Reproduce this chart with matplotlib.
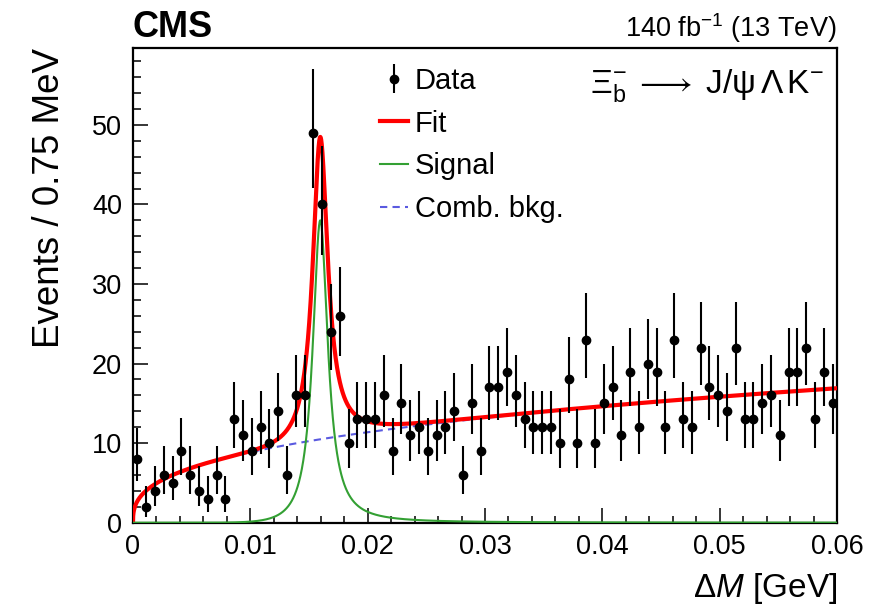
import math
import numpy as np
import matplotlib
matplotlib.use("Agg")
import matplotlib.pyplot as plt
from matplotlib.ticker import MultipleLocator

# ---------------- data ----------------
bin_width = 0.00075  # GeV
x_min, x_max = 0.0, 0.06
counts = [8, 2, 4, 6, 5, 9, 6, 4, 3, 6, 3, 13, 11, 9, 12, 10, 14, 6, 16, 16,
          49, 40, 24, 26, 10,
          13, 13, 13, 16, 9, 15, 11, 12, 9, 11, 12, 14, 6, 15, 9, 17, 17, 19, 16,
          13, 12, 12, 12, 10, 18, 10, 23,
          10, 15, 17, 11, 19, 12, 20, 19, 12, 23, 13, 12, 22, 17, 16, 14, 22, 13,
          13, 15, 16, 11, 19, 19, 22, 13, 19, 15]

# fit model parameters
bkg_norm, bkg_power = 46.5, 0.36
sig_mean, sig_height = 0.01596, 38.0
sig_gamma = 0.00078          # Breit-Wigner-like half width
sig_left_cut = 0.0048        # faster fall-off on the low side

x_ticks = [0, 0.01, 0.02, 0.03, 0.04, 0.05, 0.06]
x_tick_labels = ["0", "0.01", "0.02", "0.03", "0.04", "0.05", "0.06"]
y_ticks = [0, 10, 20, 30, 40, 50]
y_max = 59.7

legend_labels = ["Data", "Fit", "Signal", "Comb. bkg."]
xlabel = r"$\Delta\mathit{M}$ [GeV]"
ylabel = "Events / 0.75 MeV"
decay_label = (r"$\Xi_{\mathrm{b}}^{-}\;\longrightarrow\;"
               r"\mathrm{J/\psi}\,\Lambda\,\mathrm{K}^{-}$")

# ---------------- helpers ----------------
def pois_cdf(n, mu):
    s, term = 0.0, math.exp(-mu)
    for k in range(n + 1):
        if k > 0:
            term *= mu / k
        s += term
    return s

def garwood(n, alpha=0.158655):
    if n == 0:
        lo = 0.0
    else:
        a, b = 0.0, n + 10 * math.sqrt(n) + 10
        for _ in range(100):
            m = 0.5 * (a + b)
            if 1 - pois_cdf(n - 1, m) < alpha:
                a = m
            else:
                b = m
        lo = 0.5 * (a + b)
    a, b = n, n + 10 * math.sqrt(n + 1) + 10
    for _ in range(100):
        m = 0.5 * (a + b)
        if pois_cdf(n, m) > alpha:
            a = m
        else:
            b = m
    hi = 0.5 * (a + b)
    return n - lo, hi - n

centers = (np.arange(len(counts)) + 0.5) * bin_width
errs = np.array([garwood(n) for n in counts]).T

xs = np.linspace(x_min, x_max, 4000)
bkg = bkg_norm * np.power(xs, bkg_power)
d = xs - sig_mean
sig = sig_height / (1.0 + (d / sig_gamma) ** 2)
sig = np.where(d < 0, sig * np.exp(-(d / sig_left_cut) ** 2), sig)
fit = bkg + sig

# ---------------- style ----------------
plt.rcParams["font.family"] = ["Liberation Sans", "DejaVu Sans"]
plt.rcParams["mathtext.fontset"] = "custom"
plt.rcParams["mathtext.rm"] = "Liberation Sans"
plt.rcParams["mathtext.it"] = "Liberation Sans:italic"
plt.rcParams["mathtext.bf"] = "Liberation Sans:bold"
plt.rcParams["mathtext.fallback"] = "stixsans"

fig = plt.figure(figsize=(8.86, 6.09), dpi=100)
ax = fig.add_axes([133 / 886, 1 - 522.7 / 609, (837 - 133) / 886, (522.7 - 47.7) / 609])

red = "#ff0000"
green = "#33a033"
blue = "#5a5ae0"

l_bkg, = ax.plot(xs, bkg, color=blue, lw=1.5, ls=(0, (3.5, 2.5)), zorder=2,
                 label=legend_labels[3])
l_fit, = ax.plot(xs, fit, color=red, lw=3.0, zorder=3, label=legend_labels[1])
l_sig, = ax.plot(xs, sig, color=green, lw=1.5, zorder=4, label=legend_labels[2])
h_data = ax.errorbar(centers, counts, yerr=errs, fmt="o", color="black",
                     ms=6, elinewidth=1.5, capsize=0, zorder=6,
                     label=legend_labels[0])

ax.set_xlim(x_min, x_max)
ax.set_ylim(0, y_max)
ax.set_xticks(x_ticks)
ax.set_xticklabels(x_tick_labels)
ax.set_yticks(y_ticks)
ax.xaxis.set_minor_locator(MultipleLocator(0.002))
ax.yaxis.set_minor_locator(MultipleLocator(2))
ax.tick_params(which="both", direction="in", top=False, right=False,
               labelsize=19.5, width=1.1)
ax.tick_params(which="major", length=10.8, pad=8)
ax.tick_params(which="minor", length=5.4)
for s in ax.spines.values():
    s.set_linewidth(1.6)

ax.set_xlabel(xlabel, fontsize=24, loc="right", labelpad=8)
ax.set_ylabel(ylabel, fontsize=26.5, loc="top", labelpad=18)

fig.text(133 / 886, 1 - 37 / 609, "CMS", fontsize=26, fontweight="bold",
         ha="left", va="baseline")
fig.text(836 / 886, 1 - 37 / 609, r"140 fb$^{-1}$ (13 TeV)", fontsize=19.5,
         ha="right", va="baseline")
fig.text(590 / 886, 1 - 93 / 609, decay_label, fontsize=24, ha="left",
         va="baseline")

leg = ax.legend([h_data, l_fit, l_sig, l_bkg], legend_labels,
                loc="upper left", bbox_to_anchor=(380 / 886, 1 - 67 / 609),
                bbox_transform=fig.transFigure, frameon=False, fontsize=21,
                handlelength=0.95, handletextpad=0.25, labelspacing=0.5,
                borderpad=0, borderaxespad=0)

fig.savefig("out.png", dpi=100)
